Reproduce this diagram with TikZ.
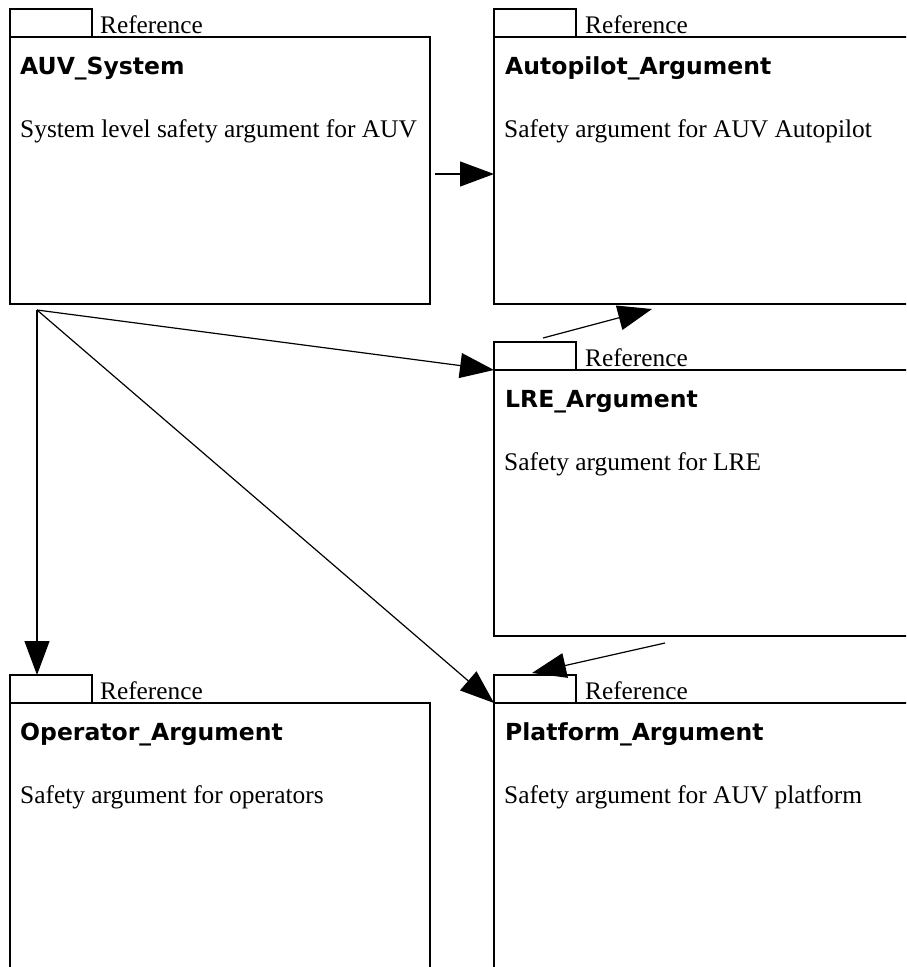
\documentclass[tikz,border=0pt]{standalone}
\usepackage{fontspec}
\setmainfont{Liberation Serif}
\newfontfamily\titlefont{DejaVu Sans}
\usetikzlibrary{arrows.meta}

\tikzset{
  body/.style={draw,line width=1.5pt,rectangle,anchor=north west,outer sep=0pt,inner sep=0pt},
  tab/.style={draw,line width=1.3pt,rectangle,anchor=north west,outer sep=0pt,inner sep=0pt,
    minimum width=82pt,minimum height=28pt},
  reflbl/.style={anchor=base west,inner sep=0pt,font=\fontsize{25.3pt}{30pt}\selectfont},
  modname/.style={anchor=base west,inner sep=0pt,font=\titlefont\bfseries\fontsize{23.5pt}{28pt}\selectfont},
  modtext/.style={anchor=base west,inner sep=0pt,font=\fontsize{25.4pt}{30pt}\selectfont},
  conn/.style={-{Triangle[length=34pt,width=25pt]},line width=1.2pt}
}

\begin{document}
\begin{tikzpicture}[x=1pt,y=-1pt]
\clip (0,0) rectangle (906,967);
\fill[white] (0,0) rectangle (906,967);

% AUV_System
\node[tab] (auvtab) at (10,9) {};
\node[body,minimum width=420pt,minimum height=267pt] (auv) at (10,37) {};
\node[reflbl] (auvref) at (100,33) {Reference};
\node[modname] (auvname) at (20,74) {AUV\_System};
\node[modtext] (auvtext) at (20,137) {System level safety argument for AUV};

% Autopilot_Argument
\node[tab] (autotab) at (494,9) {};
\node[body,minimum width=430pt,minimum height=267pt] (auto) at (494,37) {};
\node[reflbl] (autoref) at (585,33) {Reference};
\node[modname] (autoname) at (505,74) {Autopilot\_Argument};
\node[modtext] (autotext) at (504,137) {Safety argument for AUV Autopilot};

% LRE_Argument
\node[tab] (lretab) at (494,342) {};
\node[body,minimum width=430pt,minimum height=266pt] (lre) at (494,370) {};
\node[reflbl] (lreref) at (585,366) {Reference};
\node[modname] (lrename) at (505,407) {LRE\_Argument};
\node[modtext] (lretext) at (504,470) {Safety argument for LRE};

% Operator_Argument
\node[tab] (opertab) at (10,675) {};
\node[body,minimum width=420pt,minimum height=300pt] (oper) at (10,703) {};
\node[reflbl] (operref) at (100,699) {Reference};
\node[modname] (opername) at (20,740) {Operator\_Argument};
\node[modtext] (opertext) at (20,803) {Safety argument for operators};

% Platform_Argument
\node[tab] (plattab) at (494,675) {};
\node[body,minimum width=430pt,minimum height=300pt] (plat) at (494,703) {};
\node[reflbl] (platref) at (585,699) {Reference};
\node[modname] (platname) at (505,740) {Platform\_Argument};
\node[modtext] (plattext) at (504,803) {Safety argument for AUV platform};

% connectors
\coordinate (auvout) at (37,310);
\coordinate (auvright) at (435,174);
\coordinate (lreup) at (543,338);
\coordinate (autodown) at (652,309);
\coordinate (lredown) at (665,643);
\coordinate (platin) at (532,673);

\draw[conn] (auvright) -- (auvright -| auto.west);
\draw[conn] (auvout) -- (lretab.south west);
\draw[conn] (auvout) -- (plattab.south west);
\draw[conn] (auvout) -- (auvout |- opertab.north);
\draw[conn] (lreup) -- (autodown);
\draw[conn] (lredown) -- (platin);
\end{tikzpicture}
\end{document}
